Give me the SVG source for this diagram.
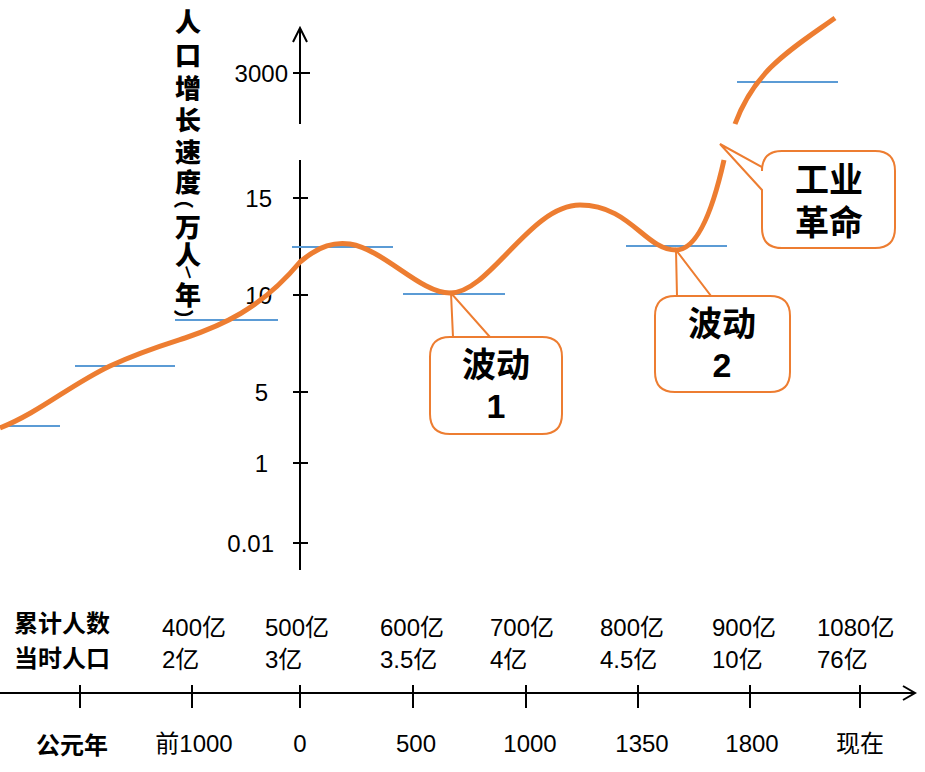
<svg xmlns="http://www.w3.org/2000/svg" width="925" height="772" viewBox="0 0 925 772">
<style>
.ax{stroke:#000;stroke-width:2;fill:none}
.bl{stroke:#5b9bd5;stroke-width:2}
.cv{stroke:#ed7d31;stroke-width:5;fill:none;stroke-linecap:butt}
.cb{fill:#fff;stroke:#ed7d31;stroke-width:2}
.t{font-family:"Liberation Sans","Noto Sans CJK SC",sans-serif;font-size:24px;fill:#000}
.b{font-family:"Liberation Sans","Noto Sans CJK SC",sans-serif;font-size:34px;font-weight:bold;fill:#000;text-anchor:middle}
.bb{font-family:"Noto Sans CJK SC",sans-serif;font-size:24px;font-weight:bold;fill:#000}
.yt{font-family:"Noto Sans CJK SC",sans-serif;font-size:26px;font-weight:900;fill:#000;text-anchor:middle}
</style>
<g id="axes">
<path class="ax" d="M300,124V28M293,42L300,28L307,42M300,160V570"/>
<path class="ax" d="M293,73H310M293,198H308M293,295H308M293,392H308M293,463H308M293,543H308"/>
<path class="ax" d="M0,693H915M903,686L915,693L903,700"/>
<path class="ax" d="M80,685V708M192,685V708M300,685V708M413,685V708M526,685V708M638,685V708M750,685V708M860,685V708"/>
</g>
<g id="ylabels" class="t" text-anchor="end">
<text x="288" y="82">3000</text><text x="272" y="207">15</text><text x="272" y="304">10</text><text x="268" y="401">5</text><text x="268" y="472">1</text><text x="274" y="552">0.01</text>
</g>
<g id="ytitle" class="yt">
<text x="188" y="32">人</text><text x="188" y="65">口</text><text x="188" y="98">增</text><text x="188" y="130">长</text><text x="188" y="162">速</text><text x="188" y="192">度</text>
<text x="188" y="206" font-size="20" transform="rotate(90 188 199)" dominant-baseline="middle">（</text>
<text x="188" y="237">万</text><text x="188" y="265">人</text>
<text x="188" y="278" font-size="16" font-family="Liberation Sans" transform="rotate(-30 188 272)">/</text>
<text x="188" y="305">年</text>
<text x="188" y="326" font-size="20" transform="rotate(90 188 319)" dominant-baseline="middle">）</text>
</g>
<g id="blue">
<line class="bl" x1="0" y1="426" x2="60" y2="426"/><line class="bl" x1="75" y1="366" x2="175" y2="366"/>
<line class="bl" x1="175" y1="320" x2="278" y2="320"/><line class="bl" x1="292" y1="247" x2="393" y2="247"/>
<line class="bl" x1="403" y1="294" x2="505" y2="294"/><line class="bl" x1="626" y1="246" x2="727" y2="246"/>
<line class="bl" x1="737" y1="82" x2="838" y2="82"/>
</g>
<g id="connectors">
<path class="cv" d="M0,428C40,412 70,385 110,366C140,352 160,346 185,338C220,326 260,310 300,262C320,245 335,242 350,244C385,250 420,293 450,293C490,293 530,205 580,205C630,205 645,250 676,250C700,250 715,200 724,160"/>
<path class="cv" d="M735,124C755,70 790,50 835,18"/>
</g>
<g id="c1"><path class="cb" d="M451,293L453,337H542Q562,337 562,357V414Q562,434 542,434H450Q430,434 430,414V357Q430,337 450,337H490Z" /><text class="b" x="496" y="377">波动</text><text class="b" x="496" y="418">1</text></g>
<g id="c2"><path class="cb" d="M676,250L677,296H770Q790,296 790,316V372Q790,392 770,392H675Q655,392 655,372V316Q655,296 675,296H711Z"/><text class="b" x="722" y="336">波动</text><text class="b" x="722" y="377">2</text></g>
<g id="c3"><path class="cb" d="M720,144L762,167V171Q762,151 782,151H875Q895,151 895,171V228Q895,248 875,248H782Q762,248 762,228V190Z"/><text class="b" x="829" y="192">工业</text><text class="b" x="829" y="235">革命</text></g>
<g id="rows" class="t">
<text class="bb" x="14" y="632">累计人数</text><text class="bb" x="14" y="667">当时人口</text>
<text x="162" y="636">400亿</text><text x="162" y="668">2亿</text>
<text x="265" y="636">500亿</text><text x="265" y="668">3亿</text>
<text x="380" y="636">600亿</text><text x="380" y="668">3.5亿</text>
<text x="490" y="636">700亿</text><text x="490" y="668">4亿</text>
<text x="600" y="636">800亿</text><text x="600" y="668">4.5亿</text>
<text x="712" y="636">900亿</text><text x="712" y="668">10亿</text>
<text x="817" y="636">1080亿</text><text x="817" y="668">76亿</text>
</g>
<g id="xlabels" class="t" text-anchor="middle">
<text class="bb" x="72" y="754">公元年</text>
<text x="194" y="752">前1000</text><text x="300" y="752">0</text><text x="416" y="752">500</text><text x="530" y="752">1000</text><text x="642" y="752">1350</text><text x="752" y="752">1800</text><text x="860" y="752">现在</text>
</g>
</svg>
